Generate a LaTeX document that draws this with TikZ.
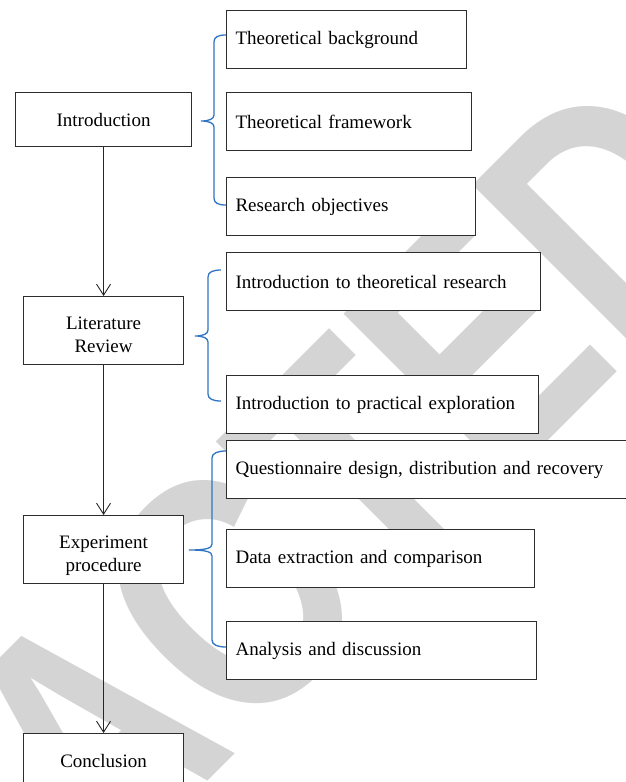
\documentclass[tikz,border=0pt]{standalone}
\usepackage{fontspec}
\setmainfont{Liberation Serif}[WordSpace=0.8]
\newfontfamily\wmfont{Liberation Sans}[FakeStretch=0.8]
\usetikzlibrary{arrows.meta}
\definecolor{wm}{RGB}{212,212,212}
\definecolor{bracec}{RGB}{47,117,196}
\definecolor{boxc}{RGB}{45,45,45}
\newcommand\twolines[2]{\raisebox{-6pt}[\height][\depth]{\begin{tabular}{@{}c@{}}#1\\#2\end{tabular}}}
\begin{document}
\begin{tikzpicture}[x=1pt,y=-1pt,
  rbox/.style={draw=boxc, fill=white, line width=1.1pt, anchor=north west,
    inner xsep=9pt, inner ysep=0pt, minimum height=58pt, align=left,
    text width=#1, font=\fontsize{19}{22.5}\selectfont},
  lbox/.style={draw=boxc, fill=white, line width=1.1pt, anchor=north west,
    inner sep=0pt, align=center, font=\fontsize{19}{22.5}\selectfont},
  arr/.style={draw=black!85, line width=0.9pt, -{Straight Barb[length=11pt,width=14pt,line width=0.9pt]}},
  brace/.style={draw=bracec, line width=1.3pt},
  wmtext/.style={anchor=base west, rotate=45, inner sep=0pt, text=wm,
    font=\wmfont\bfseries\fontsize{340}{340}\selectfont}]
\useasboundingbox (0,0) rectangle (626,782);
\clip (0,0) rectangle (626,782);
\fill[white] (0,0) rectangle (626,782);
% watermark
\node[wmtext] (wmark) at (-422,1411) {RETRACTED};
% right boxes
\node[rbox=222pt] (tb)  at (226,10)  {Theoretical background};
\node[rbox=227pt] (tf)  at (226,92)  {Theoretical framework};
\node[rbox=231pt] (ro)  at (226,177) {Research objectives};
\node[rbox=296pt] (itr) at (226,252) {Introduction to theoretical research};
\node[rbox=294pt] (ipe) at (226,375) {Introduction to practical exploration};
\node[rbox=460pt] (qd)  at (226,440) {Questionnaire design, distribution and recovery};
\node[rbox=290pt] (de)  at (226,529) {Data extraction and comparison};
\node[rbox=292pt] (ad)  at (226,621) {Analysis and discussion};
% left boxes
\node[lbox, minimum width=176pt, minimum height=54pt] (intro) at (15,92)  {Introduction};
\node[lbox, minimum width=160pt, minimum height=68pt] (lit)   at (23,296) {\twolines{Literature}{Review}};
\node[lbox, minimum width=160pt, minimum height=68pt] (exp)   at (23,515) {\twolines{Experiment}{procedure}};
\node[lbox, minimum width=160pt, minimum height=54pt] (conc)  at (23,733) {Conclusion};
% arrows
\draw[arr] (intro.south) -- (lit.north);
\draw[arr] (lit.south) -- (exp.north);
\draw[arr] (exp.south) -- (conc.north);
% braces
\draw[brace] (226,35) .. controls (218,35) and (214,37) .. (214,42) -- (214,115)
  .. controls (214,119) and (209,121) .. (201,121)
  .. controls (209,121) and (214,123) .. (214,127) -- (214,198)
  .. controls (214,203) and (218,205) .. (226,205);
\draw[brace] (221,270) .. controls (213,270) and (208,272) .. (208,277) -- (208,330)
  .. controls (208,334) and (203,336) .. (195,336)
  .. controls (203,336) and (208,338) .. (208,342) -- (208,394)
  .. controls (208,399) and (213,401) .. (221,401);
\draw[brace] (226,451) .. controls (218,451) and (212,453) .. (212,458) -- (212,544)
  .. controls (212,548) and (207,550) .. (189,550)
  .. controls (207,550) and (212,552) .. (212,556) -- (212,640)
  .. controls (212,645) and (218,647) .. (226,647);
\end{tikzpicture}
\end{document}
